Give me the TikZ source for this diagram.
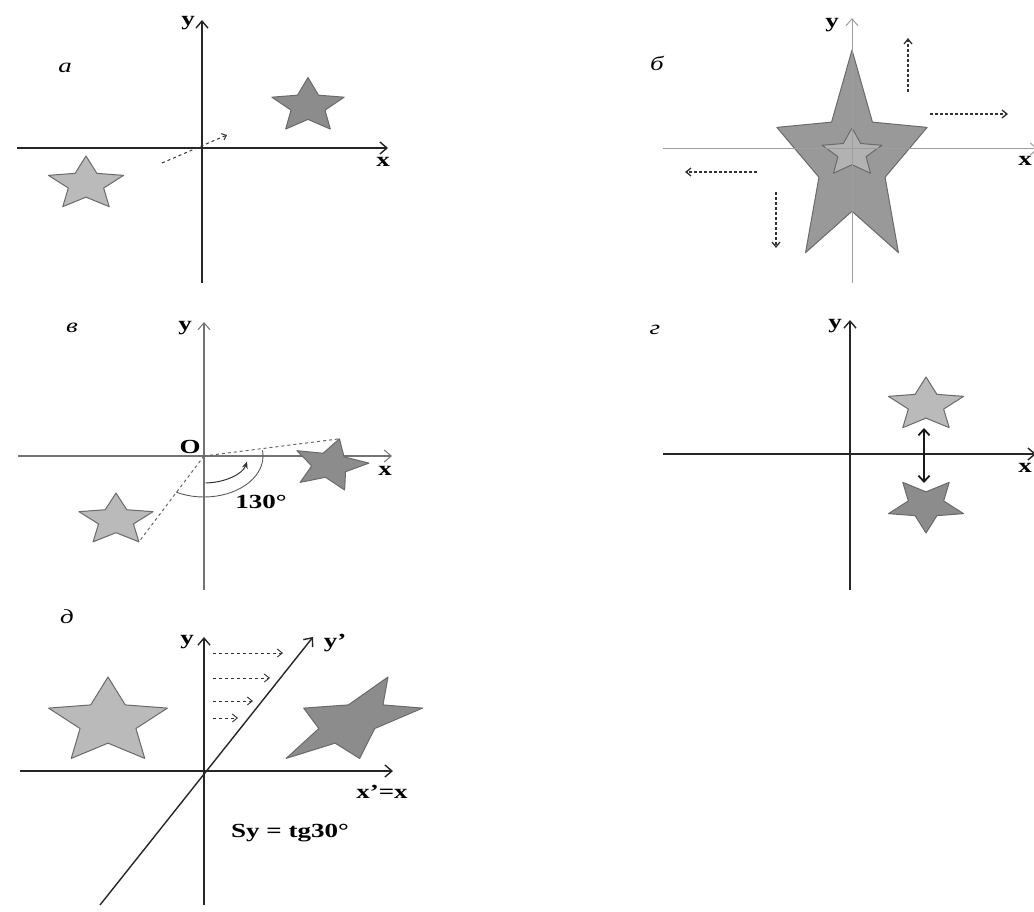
\documentclass[tikz,border=0pt]{standalone}
\usepackage{fontspec}
\setmainfont{Liberation Serif}[FakeStretch=1.35]
\usetikzlibrary{arrows.meta}
\definecolor{sdark}{HTML}{8C8C8C}
\definecolor{slight}{HTML}{BABABA}
\definecolor{sedge}{HTML}{6A6A6A}

\tikzset{
  axis/.style={line width=1.6pt,black!85,-{Straight Barb[length=7pt,width=12pt,line width=1.4pt]}},
  axisgrey/.style={line width=1.1pt,black!55,-{Straight Barb[length=7pt,width=12pt,line width=1pt]}},
  axisfaint/.style={line width=1pt,black!38,-{Straight Barb[length=7pt,width=12pt,line width=1pt]}},
  darkstar/.style={fill=sdark,draw=sedge,line width=1pt,line join=round},
  lightstar/.style={fill=slight,draw=sedge,line width=1pt,line join=round},
  lbl/.style={font=\bfseries,inner sep=1pt},
  panel/.style={font=\itshape,inner sep=1pt},
  moveto/.style={dashed,line width=1pt,black!80,-{Straight Barb[length=4pt,width=7pt]}},
  scaleto/.style={densely dashed,line width=1.3pt,black!80,-{Straight Barb[length=5pt,width=8pt]}},
  shearto/.style={dashed,line width=0.9pt,black!80,-{Straight Barb[length=5pt,width=8pt]}},
}

% star: [style]{centre}{x radius}{y radius}{rotation}{inner ratio}
\newcommand{\zvezda}[6][]{%
  \filldraw[#1,shift={(#2)}] ({#3*cos(90+#5)},{#4*sin(90+#5)})
    \foreach \k in {0,...,4}{
      -- ({#6*#3*cos(126+#5+72*\k)},{#6*#4*sin(126+#5+72*\k)})
      -- ({#3*cos(162+#5+72*\k)},{#4*sin(162+#5+72*\k)})} -- cycle;}

\begin{document}
\fontsize{20}{24}\selectfont
\begin{tikzpicture}[x=1pt,y=1pt]
  \useasboundingbox (0,0) rectangle (1034,-912);

  % a: translation
  \begin{scope}[shift={(202,-148)}]
    \coordinate (aW) at (-185,0);  \coordinate (aE) at (186,0);
    \coordinate (aS) at (0,-135);  \coordinate (aN) at (0,128);
    \draw[axis] (aW) -- (aE);
    \draw[axis] (aS) -- (aN);
    \node[lbl] (ay) at (-14,125) {y};
    \node[lbl] (ax) at (181,-14) {x};
    \node[panel] (al) at (-137,80) {а};
    \zvezda[darkstar]{106,42}{38}{28.5}{0}{0.47}
    \zvezda[lightstar]{-116,-36}{39.5}{28}{0}{0.47}
    \coordinate (aFrom) at (-40,-15);
    \coordinate (aTo) at (25,13);
    \draw[moveto] (aFrom) -- (aTo);
  \end{scope}

  % b: scaling
  \begin{scope}[shift={(852,-149)}]
    \zvezda[darkstar,fill=black!40]{0,-13}{79}{112}{0}{0.44}
    \zvezda[lightstar,fill=black!30]{0,-4}{31.5}{25}{0}{0.47}
    \coordinate (bW) at (-189,0);  \coordinate (bE) at (186,0);
    \coordinate (bS) at (0,-134);  \coordinate (bN) at (0,131);
    \draw[axisfaint] (bW) -- (bE);
    \draw[axisfaint] (bS) -- (bN);
    \node[lbl] (by) at (-20,124) {y};
    \node[lbl] (bx) at (173,-12) {x};
    \node[panel] (bl) at (-195,86) {б};
    \coordinate (bU1) at (56,57);   \coordinate (bU2) at (56,111);
    \coordinate (bR1) at (78,35);   \coordinate (bR2) at (156,35);
    \coordinate (bL1) at (-95,-23); \coordinate (bL2) at (-167,-23);
    \coordinate (bD1) at (-76,-43); \coordinate (bD2) at (-76,-99);
    \draw[scaleto] (bU1) -- (bU2);
    \draw[scaleto] (bR1) -- (bR2);
    \draw[scaleto] (bL1) -- (bL2);
    \draw[scaleto] (bD1) -- (bD2);
  \end{scope}

  % v: rotation
  \begin{scope}[shift={(204,-456)}]
    \coordinate (vO) at (0,0);
    \coordinate (vW) at (-186,0);  \coordinate (vE) at (188,0);
    \coordinate (vS) at (0,-134);  \coordinate (vN) at (0,134);
    \draw[axisgrey] (vW) -- (vE);
    \draw[axisgrey] (vS) -- (vN);
    \node[panel] (vl) at (-132,128) {в};
    \node[lbl] (vy) at (-19,128) {y};
    \node[lbl] (vo) at (-14,9) {O};
    \node[lbl] (vx) at (181,-15) {x};
    \node[lbl] (vang) at (57,-46) {130°};
    \zvezda[lightstar]{-88,-64}{39}{27}{0}{0.47}
    \zvezda[darkstar]{126,-9}{39}{27}{-14}{0.47}
    \coordinate (vA) at ({-88+39*cos(-54)},{-64+27*sin(-54)});
    \coordinate (vB) at ({126+39*cos(76)},{-9+27*sin(76)});
    \draw[dashed,line width=1pt,black!60] (vO) -- (vA);
    \draw[dashed,line width=1pt,black!60] (vO) -- (vB);
    \draw[line width=0.9pt,black!65] (vO) ++(242:59pt and 41pt)
      arc[start angle=242,end angle=368,x radius=59pt,y radius=41pt];
    \draw[line width=1pt,black!80,-{Stealth[length=7pt,width=6pt]}] (vO) ++(-88:44pt and 27pt)
      arc[start angle=-88,end angle=-12,x radius=44pt,y radius=27pt];
  \end{scope}

  % g: reflection
  \begin{scope}[shift={(850,-454)}]
    \coordinate (gW) at (-187,0);  \coordinate (gE) at (186,0);
    \coordinate (gS) at (0,-136);  \coordinate (gN) at (0,134);
    \draw[axis] (gW) -- (gE);
    \draw[axis] (gS) -- (gN);
    \node[panel] (gl) at (-195,124) {г};
    \node[lbl] (gy) at (-15,128) {y};
    \node[lbl] (gx) at (175,-14) {x};
    \zvezda[lightstar]{76,49}{39.5}{28}{0}{0.47}
    \zvezda[darkstar]{76,-51}{39.5}{28}{180}{0.47}
    \coordinate (gUp) at (74,26);
    \coordinate (gDn) at (74,-29);
    \draw[line width=1.8pt,black!90,{Straight Barb[length=6pt,width=11pt]}-{Straight Barb[length=6pt,width=11pt]}] (gUp) -- (gDn);
  \end{scope}

  % d: shear
  \begin{scope}[shift={(204,-771)}]
    \coordinate (dW) at (-184,0);  \coordinate (dE) at (189,0);
    \coordinate (dS) at (0,-134);  \coordinate (dN) at (0,134);
    \coordinate (dQ1) at (-104,-134); \coordinate (dQ2) at (109,134);
    \draw[axis] (dW) -- (dE);
    \draw[axis] (dS) -- (dN);
    \draw[axis,line width=1.4pt] (dQ1) -- (dQ2);
    \node[panel] (dl) at (-137,154) {д};
    \node[lbl] (dy) at (-17,129) {y};
    \node[lbl] (dyy) at (131,128) {y'};
    \node[lbl] (dxx) at (178,-21) {x'=x};
    \node[lbl] (dsy) at (86,-62) {Sy = tg30°};
    \zvezda[lightstar]{-96,49}{62.5}{45}{0}{0.47}
    \begin{scope}[cm={1,0,0.8,1,(204.8,0)}]
      \zvezda[darkstar]{-96,49}{62.5}{45}{0}{0.47}
    \end{scope}
    \foreach \h/\e [count=\i] in {118/79,93/66,70/49,53/34}{
      \coordinate (dA\i) at (9,\h);
      \coordinate (dB\i) at (\e,\h);
      \draw[shearto] (dA\i) -- (dB\i);
    }
  \end{scope}
\end{tikzpicture}
\end{document}
